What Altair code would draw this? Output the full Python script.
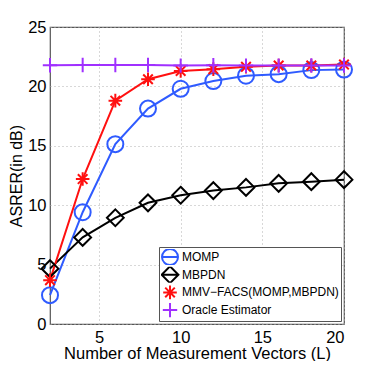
import altair as alt
import pandas as pd

x_vals = [2, 4, 6, 8, 10, 12, 14, 16, 18, 20]
momp = [2.43, 9.41, 15.14, 18.13, 19.8, 20.45, 20.9, 21.03, 21.37, 21.42]
mbpdn = [4.66, 7.29, 8.94, 10.2, 10.84, 11.23, 11.5, 11.84, 11.98, 12.15]
facs = [3.69, 12.2, 18.8, 20.6, 21.3, 21.45, 21.65, 21.76, 21.76, 21.84]
oracle = [21.78, 21.8, 21.8, 21.8, 21.75, 21.78, 21.75, 21.75, 21.76, 21.76]

series_names = ["MOMP", "MBPDN", "MMV\u2212FACS(MOMP,MBPDN)", "Oracle Estimator"]
series_vals = [momp, mbpdn, facs, oracle]
colors = ["#2f5bff", "#000000", "#ff1010", "#a030ff"]

x_ticks = [5, 10, 15, 20]
y_ticks = [0, 5, 10, 15, 20, 25]

rows = []
for name, vals in zip(series_names, series_vals):
    for xv, yv in zip(x_vals, vals):
        rows.append({"L": xv, "ASRER": yv, "series": name})
df = pd.DataFrame(rows)

circle = "M1,0A1,1,0,1,1,-1,0A1,1,0,1,1,1,0Z"
diamond = "M0,-1.05L1.05,0L0,1.05L-1.05,0Z"
star = "M-0.85,0L0.85,0M0,-0.85L0,0.85M-0.6,-0.6L0.6,0.6M-0.6,0.6L0.6,-0.6"
plus = "M-0.9,0L0.9,0M0,-0.9L0,0.9"
marker_shapes = [circle, diamond, star, plus]
legend_shapes = [circle + "M-1.05,0L1.05,0", diamond + "M-1.05,0L1.05,0", star, plus]

FONT = "Liberation Sans"

xenc = alt.X("L:Q", scale=alt.Scale(domain=[2, 20], nice=False),
             axis=alt.Axis(values=x_ticks, title="Number of Measurement Vectors (L)",
                           labelFontSize=16.5, titleFontSize=16.5, labelFont=FONT, titleFont=FONT,
                           titleFontWeight="normal", labelColor="black", titleColor="black",
                           ticks=False, domain=False, labelPadding=5, titlePadding=0,
                           gridDash=[1, 3], gridColor="#b0b0b0"))
yenc = alt.Y("ASRER:Q", scale=alt.Scale(domain=[0, 25], nice=False),
             axis=alt.Axis(values=y_ticks, title="ASRER(in dB)",
                           labelFontSize=16.5, titleFontSize=16, labelFont=FONT, titleFont=FONT,
                           titleFontWeight="normal", labelColor="black", titleColor="black",
                           ticks=False, domain=False, labelPadding=4, titlePadding=3,
                           gridDash=[1, 3], gridColor="#b0b0b0"))

color_scale = alt.Scale(domain=series_names, range=colors)

base = alt.Chart(df)

lines = base.mark_line(strokeWidth=2).encode(
    x=xenc, y=yenc,
    color=alt.Color("series:N", scale=color_scale, legend=None),
    order="L:Q",
)

points = base.mark_point(filled=False, strokeWidth=2, size=256, opacity=1).encode(
    x="L:Q", y="ASRER:Q",
    color=alt.Color("series:N", scale=color_scale, legend=None),
    shape=alt.Shape("series:N", scale=alt.Scale(domain=series_names, range=marker_shapes), legend=None),
)

legend_layer = base.mark_point(filled=False, strokeWidth=2, size=256, opacity=0).encode(
    x="L:Q", y="ASRER:Q",
    color=alt.Color("series:N", scale=color_scale,
                    legend=alt.Legend(title=None, orient="none", legendX=109, legendY=220,
                                      fillColor="white", strokeColor="#555555",
                                      padding=2, rowPadding=1.7, clipHeight=16,
                                      symbolSize=256,
                                      symbolStrokeWidth=2, symbolOpacity=1,
                                      labelFontSize=12, labelFont=FONT, labelColor="black",
                                      labelOffset=3, labelLimit=300)),
    shape=alt.Shape("series:N", scale=alt.Scale(domain=series_names, range=legend_shapes)),
)

chart = alt.layer(lines, points, legend_layer).resolve_scale(
    color="independent", shape="independent"
).properties(
    width=294, height=297,
    autosize=alt.AutoSizeParams(type="none"),
    padding={"left": 42, "top": 19, "right": 29, "bottom": 37},
).configure_view(stroke="#555555", strokeWidth=1.2)

chart.save("out.html", embed_options={"renderer": "svg", "actions": False})
